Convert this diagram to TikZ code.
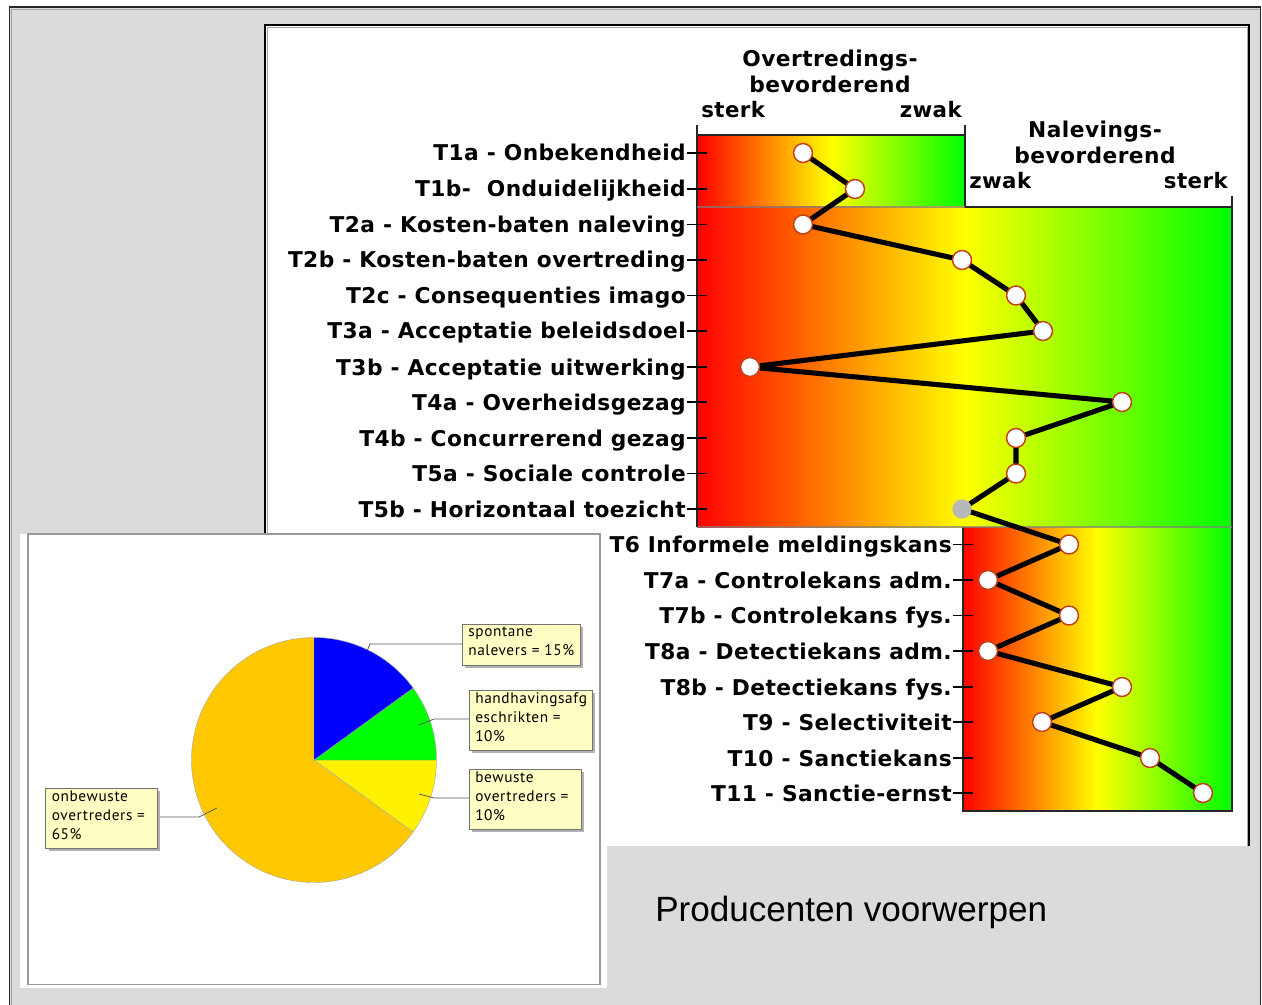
\documentclass[tikz,border=0pt]{standalone}
\usepackage{fontspec}
\setmainfont{DejaVu Sans}
\newfontfamily\arialf{Liberation Sans}
\newfontfamily\noteF[LetterSpace=4]{PT Sans}
\newfontfamily\rowF[LetterSpace=2,BoldFont={DejaVu Sans Bold}]{DejaVu Sans}
\definecolor{bggrey}{HTML}{DBDBDB}
\definecolor{pieorange}{HTML}{FFC800}
\definecolor{notefill}{HTML}{FFFFC4}
\definecolor{ringred}{HTML}{C0401A}
\pgfdeclarelayer{back}
\pgfsetlayers{back,main}
\tikzset{
  rowlabel/.style={anchor=base east,inner sep=0pt,font=\rowF\bfseries\fontsize{16.3}{19.5}\selectfont,text=black},
  headlabel/.style={anchor=base,align=center,inner sep=0pt,font=\rowF\bfseries\fontsize{16.3}{19.5}\selectfont,text=black},
  endlabel/.style={inner sep=0pt,font=\rowF\bfseries\fontsize{16}{19.5}\selectfont,text=black},
  point/.style={circle,draw=ringred,fill=white,line width=1.1pt,minimum size=14.2pt,inner sep=0pt},
  greypoint/.style={circle,fill=black!28,minimum size=14.5pt,inner sep=0pt},
  tick/.style={black,line width=0.9pt},
  scalebox/.style={left color=red,right color=green,middle color=yellow,draw=none},
  link/.style={line width=3.8pt,black,line join=round},
  notebox/.style={draw=black!55,fill=notefill,line width=0.6pt},
  notetext/.style={anchor=north west,align=left,inner sep=0pt,font=\noteF\fontsize{11.5}{14.25}\selectfont,text=black},
  leader/.style={black!65,line width=0.6pt},
  wedge/.style={draw=black!35,line width=0.3pt}
}
\begin{document}
\begin{tikzpicture}[x=0.75pt,y=-0.75pt]
\useasboundingbox (0,0) rectangle (1262,1005);
\begin{pgfonlayer}{back}
\fill[white] (0,0) rectangle (1262,1005);
\fill[bggrey] (9.5,7) rectangle (1260.5,1005);
\draw[black!85,line width=1pt] (9.5,1005) -- (9.5,7) -- (1260.5,7) -- (1260.5,1005);
\draw[black!35,line width=0.7pt] (11,1005) -- (11,9) -- (1259,9);
% main white panel
\fill[white] (265,25) rectangle (1249,846);
\draw[black,line width=1pt] (265,534) -- (265,25) -- (1249,25) -- (1249,846);
\draw[black!35,line width=0.7pt] (267,534) -- (267,27) -- (1247,27) -- (1247,846);
% scales
\fill[scalebox] (697,135) rectangle (965,207);
\fill[scalebox] (697,207) rectangle (1232,527);
\fill[scalebox] (963,527) rectangle (1232,811);
\draw[black!85,line width=0.9pt] (697,125) -- (697,527) (697,135) -- (965,135) (965,125) -- (965,207) -- (1232,207) (1232,196) -- (1232,527);
\draw[black!85,line width=0.9pt] (963,527) -- (963,811) -- (1232,811) -- (1232,527);
\draw[black!50,opacity=0.7,line width=0.9pt] (697,207) -- (965,207) (697,527) -- (1232,527);
\end{pgfonlayer}
% headers
\node[headlabel] (h1) at (830,93) {Overtredings-\\bevorderend};
\node[headlabel] (h2) at (1095,164) {Nalevings-\\bevorderend};
\node[endlabel,anchor=base west] (s1) at (701,118) {sterk};
\node[endlabel,anchor=base east] (z1) at (962,118) {zwak};
\node[endlabel,anchor=base west] (z2) at (969,189) {zwak};
\node[endlabel,anchor=base east] (s2) at (1228,189) {sterk};
% rows
\foreach \n/\y/\t/\ex/\tx in {
 a/153/{T1a - Onbekendheid}/686/707,
 b/189/{T1b-\ \ Onduidelijkheid}/686/707,
 c/224.5/{T2a - Kosten-baten naleving}/686/707,
 d/260/{T2b - Kosten-baten overtreding}/686/707,
 e/295.5/{T2c - Consequenties imago}/686/707,
 f/331/{T3a - Acceptatie beleidsdoel}/686/707,
 g/367/{T3b - Acceptatie uitwerking}/686/707,
 h/402/{T4a - Overheidsgezag}/686/707,
 i/438/{T4b - Concurrerend gezag}/686/707,
 j/473.5/{T5a - Sociale controle}/686/707,
 k/509/{T5b - Horizontaal toezicht}/686/707,
 l/544.5/{T6 Informele meldingskans}/952/973,
 m/580/{T7a - Controlekans adm.}/952/973,
 n/615.5/{T7b - Controlekans fys.}/952/973,
 o/651/{T8a - Detectiekans adm.}/952/973,
 p/687/{T8b - Detectiekans fys.}/952/973,
 q/722/{T9 - Selectiviteit}/952/973,
 r/758/{T10 - Sanctiekans}/952/973,
 s/793/{T11 - Sanctie-ernst}/952/973}{
  \node[rowlabel] (L\n) at (\ex,\y+8) {\t};
  \coordinate (S\n) at (\ex+1,\y);
  \coordinate (T\n) at (\tx,\y);
  \draw[tick] (S\n) -- (T\n);
}
% points
\foreach \n/\x/\y in {a/803/153,b/855/189,c/803/224.5,d/962/260,e/1016/295.5,f/1043/331,g/750/367,h/1122/402,i/1016/438,j/1016/473.5,l/1069/544.5,m/988/580,n/1069/615.5,o/988/651,p/1122/687,q/1042/722,r/1150/758,s/1203/793}{
  \node[point] (P\n) at (\x,\y) {};
}
\node[greypoint] (Pk) at (962,509) {};
\begin{pgfonlayer}{back}
\draw[link] (Pa.center) -- (Pb.center) -- (Pc.center) -- (Pd.center) -- (Pe.center) -- (Pf.center) -- (Pg.center) -- (Ph.center) -- (Pi.center) -- (Pj.center) -- (Pk.center) -- (Pl.center) -- (Pm.center) -- (Pn.center) -- (Po.center) -- (Pp.center) -- (Pq.center) -- (Pr.center) -- (Ps.center);
\end{pgfonlayer}
% lower right gray block
\fill[bggrey] (607,847) rectangle (1260,1005);
\node[anchor=base west,inner sep=0pt,font=\arialf\fontsize{26.3}{30}\selectfont,text=black] (title) at (655,921) {Producenten voorwerpen};
% pie panel
\fill[white] (20,534) rectangle (607,988);
\draw[black!40,line width=0.8pt] (28,534) -- (28,984.5) -- (600,984.5) -- (600,534) -- cycle;
\begin{scope}[shift={(314,760)},yscale=-1]
\filldraw[fill=pieorange,wedge] (0,0) -- (-36:122.5) arc[start angle=-36,end angle=-270,radius=122.5] -- cycle;
\filldraw[fill=yellow,wedge] (0,0) -- (0:122.5) arc[start angle=0,end angle=-36,radius=122.5] -- cycle;
\filldraw[fill=green,wedge] (0,0) -- (36:122.5) arc[start angle=36,end angle=0,radius=122.5] -- cycle;
\filldraw[fill=blue,wedge] (0,0) -- (90:122.5) arc[start angle=90,end angle=36,radius=122.5] -- cycle;
\end{scope}
% notes
\foreach \n/\xa/\ya/\xb/\yb/\t in {
 n1/462/624/580/665/{spontane\\nalevers = 15\%},
 n2/469/690/592/750/{handhavingsafg\\eschrikten =\\10\%},
 n3/469/769/581/829/{bewuste\\overtreders =\\10\%},
 n4/45.5/788/157/848/{onbewuste\\overtreders =\\65\%}}{
  \fill[black!30] (\xa+3,\ya+3) rectangle (\xb+3,\yb+3);
  \draw[notebox] (\xa,\ya) rectangle (\xb,\yb);
  \node[notetext] (\n) at (\xa+6,\ya+2.5) {\t};
}
\coordinate (a1) at (462,644);
\coordinate (a2) at (469,719);
\coordinate (a3) at (469,798);
\coordinate (a4) at (160,817);
\draw[leader] (a1) -- (370,644) -- (367.5,650);
\draw[leader] (a2) -- (434,719) -- (419,725);
\draw[leader] (a3) -- (434,798) -- (419,794);
\draw[leader] (a4) -- (199,817) -- (217,808);
\end{tikzpicture}
\end{document}
